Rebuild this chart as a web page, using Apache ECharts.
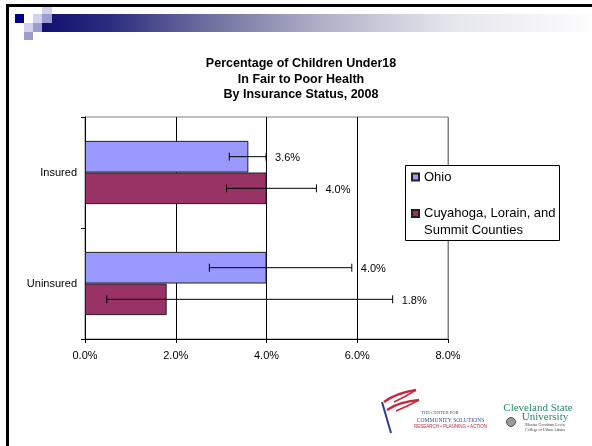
<!DOCTYPE html>
<html>
<head>
<meta charset="utf-8">
<script src="https://cdn.jsdelivr.net/npm/echarts@6/dist/echarts.min.js"></script>
<style>html,body{margin:0;padding:0;background:#fff;}#c{width:592px;height:446px;}</style>
</head>
<body>
<div id="c"></div>
<script>
const categories = ['Insured', 'Uninsured'];
const seriesNames = ['Ohio', 'Cuyahoga, Lorain, and\nSummit Counties'];
const ohioValues = [3.6, 4.0];
const cuyValues = [4.0, 1.8];
const ohioLow = [3.18, 2.74];
const ohioHigh = [3.99, 5.88];
const cuyLow = [3.12, 0.48];
const cuyHigh = [5.10, 6.78];
const xTicks = [0, 2, 4, 6, 8];

const FONT = 'Liberation Sans';
const GAP = 0.43;

function errData(low, high, vals, s) {
  return categories.map((c, i) => [low[i], high[i], i, vals[i], s]);
}

function renderErr(params, api) {
  const lo = api.value(0), hi = api.value(1), cat = api.value(2), v = api.value(3), s = api.value(4);
  const pLo = api.coord([lo, cat]);
  const pHi = api.coord([hi, cat]);
  const band = api.size([0, 1])[1];
  const barW = band * (1 - GAP) / 2;
  const y = pLo[1] + (s === 0 ? -1 : 1) * barW / 2;
  const st = { stroke: '#000', lineWidth: 1 };
  return {
    type: 'group',
    children: [
      { type: 'line', shape: { x1: pLo[0], y1: y, x2: pHi[0], y2: y }, style: st },
      { type: 'line', shape: { x1: pLo[0], y1: y - 4, x2: pLo[0], y2: y + 4 }, style: st },
      { type: 'line', shape: { x1: pHi[0], y1: y - 4, x2: pHi[0], y2: y + 4 }, style: st },
      { type: 'text', style: { x: pHi[0] + 9, y: y + 1.5, text: v.toFixed(1) + '%', fill: '#000',
        font: '11px "' + FONT + '"', textAlign: 'left', textVerticalAlign: 'middle' } }
    ]
  };
}

const chart = echarts.init(document.getElementById('c'), null, { renderer: 'canvas' });
chart.setOption({
  animation: false,
  backgroundColor: '#fff',
  textStyle: { fontFamily: FONT },
  title: {
    text: 'Percentage of Children Under18\nIn Fair to Poor Health\nBy Insurance Status, 2008',
    left: 296, textAlign: 'center', top: 51,
    textStyle: { fontFamily: FONT, fontWeight: 'bold', fontSize: 12.5, lineHeight: 15.5, color: '#000' }
  },
  grid: { left: 85, top: 117, width: 363, height: 222, show: true, borderColor: '#808080', borderWidth: 1, backgroundColor: 'transparent' },
  legend: {
    orient: 'vertical', left: 411, top: 168.5, padding: 0, itemGap: 2.5, z: 10,
    itemWidth: 7, itemHeight: 7, icon: 'rect',
    formatter: name => name.indexOf('\n') >= 0 ? ' \n' + name : name,
    textStyle: { fontSize: 13, lineHeight: 17, color: '#000', fontFamily: FONT },
    data: seriesNames
  },
  xAxis: {
    type: 'value', min: 0, max: 8, interval: 2,
    axisLine: { show: true, lineStyle: { color: '#000', width: 1 } },
    axisTick: { show: true, length: 4, lineStyle: { color: '#000' } },
    axisLabel: { margin: 11, fontSize: 11, color: '#000', formatter: v => v.toFixed(1) + '%' },
    splitLine: { show: true, lineStyle: { color: ['#000', '#000', '#000', '#000', '#808080'], width: 1 } }
  },
  yAxis: {
    type: 'category', data: categories, inverse: true,
    axisLine: { show: true, lineStyle: { color: '#000', width: 1 } },
    axisTick: { show: true, length: 4, lineStyle: { color: '#000' } },
    axisLabel: { margin: 8, fontSize: 11, color: '#000' }
  },
  series: [
    { name: seriesNames[0], type: 'bar', data: ohioValues, barGap: '0%', barCategoryGap: '43%',
      itemStyle: { color: '#9999FF', borderColor: '#222', borderWidth: 1 } },
    { name: seriesNames[1], type: 'bar', data: cuyValues, barGap: '0%', barCategoryGap: '43%',
      itemStyle: { color: '#993366', borderColor: '#222', borderWidth: 1 } },
    { type: 'custom', name: 'errOhio', renderItem: renderErr, data: errData(ohioLow, ohioHigh, ohioValues, 0),
      encode: { x: [0, 1], y: 2 }, z: 5, silent: true },
    { type: 'custom', name: 'errCuy', renderItem: renderErr, data: errData(cuyLow, cuyHigh, cuyValues, 1),
      encode: { x: [0, 1], y: 2 }, z: 5, silent: true }
  ],
  graphic: [
    { type: 'rect', shape: { x: 6, y: 4, width: 600, height: 3 }, style: { fill: '#000' }, z: 20 },
    { type: 'rect', shape: { x: 6, y: 4, width: 3, height: 460 }, style: { fill: '#000' }, z: 20 },
    { type: 'rect', shape: { x: 42, y: 14, width: 560, height: 18 }, z: 20,
      style: { fill: new echarts.graphic.LinearGradient(0, 0, 1, 0, [
        { offset: 0, color: '#101070' }, { offset: 0.12, color: '#2c2c80' }, { offset: 0.3, color: '#7070a0' },
        { offset: 0.5, color: '#b0b0c8' }, { offset: 0.72, color: '#e4e4ec' }, { offset: 1, color: '#ffffff' }]) } },
    { type: 'rect', shape: { x: 15, y: 14, width: 9, height: 9 }, style: { fill: '#000080' }, z: 21 },
    { type: 'rect', shape: { x: 33, y: 14, width: 9, height: 9 }, style: { fill: '#d2d2ee' }, z: 21 },
    { type: 'rect', shape: { x: 42, y: 14, width: 10, height: 9 }, style: { fill: '#9c9cd0' }, z: 21 },
    { type: 'rect', shape: { x: 42, y: 7, width: 10, height: 7 }, style: { fill: '#d2d2ee' }, z: 21 },
    { type: 'rect', shape: { x: 24, y: 23, width: 9, height: 9 }, style: { fill: '#d2d2ee' }, z: 21 },
    { type: 'rect', shape: { x: 33, y: 23, width: 9, height: 9 }, style: { fill: '#9c9cd0' }, z: 21 },
    { type: 'rect', shape: { x: 24, y: 32, width: 9, height: 8 }, style: { fill: '#9c9cd0' }, z: 21 },
    { type: 'rect', shape: { x: 405.5, y: 165.5, width: 154, height: 75 }, style: { fill: '#fff', stroke: '#000', lineWidth: 1 }, z: 6 },
    { type: 'line', shape: { x1: 382, y1: 402, x2: 391, y2: 433 }, style: { stroke: '#2b3d8c', lineWidth: 2 }, z: 20 },
    { type: 'bezierCurve', shape: { x1: 384, y1: 402, cpx1: 396, cpy1: 393, x2: 416, y2: 390 }, style: { stroke: '#c8283c', lineWidth: 2.5, fill: null }, z: 20 },
    { type: 'bezierCurve', shape: { x1: 416, y1: 390, cpx1: 405, cpy1: 397, x2: 394, y2: 402 }, style: { stroke: '#c8283c', lineWidth: 1.5, fill: null }, z: 20 },
    { type: 'bezierCurve', shape: { x1: 387, y1: 410, cpx1: 398, cpy1: 402, x2: 419, y2: 400 }, style: { stroke: '#c8283c', lineWidth: 2.5, fill: null }, z: 20 },
    { type: 'bezierCurve', shape: { x1: 419, y1: 400, cpx1: 408, cpy1: 406, x2: 396, y2: 411 }, style: { stroke: '#c8283c', lineWidth: 1.5, fill: null }, z: 20 },
    { type: 'text', style: { x: 440, y: 413, text: 'THE CENTER FOR', font: '4.5px "Liberation Serif"', fill: '#3a4a8a', textAlign: 'center', textVerticalAlign: 'middle' }, z: 20 },
    { type: 'text', style: { x: 450.5, y: 420.5, text: 'COMMUNITY SOLUTIONS', font: '5.6px "Liberation Serif"', fill: '#3a4c9c', textAlign: 'center', textVerticalAlign: 'middle' }, z: 20 },
    { type: 'text', style: { x: 450.5, y: 427, text: 'RESEARCH • PLANNING • ACTION', font: '4.5px "Liberation Sans"', fill: '#c8283c', textAlign: 'center', textVerticalAlign: 'middle' }, z: 20 },
    { type: 'text', style: { x: 538, y: 408, text: 'Cleveland State', font: '11px "Liberation Serif"', fill: '#2a8a6c', textAlign: 'center', textVerticalAlign: 'middle' }, z: 20 },
    { type: 'text', style: { x: 545, y: 417, text: 'University', font: '11px "Liberation Serif"', fill: '#2a8a6c', textAlign: 'center', textVerticalAlign: 'middle' }, z: 20 },
    { type: 'circle', shape: { cx: 511, cy: 422, r: 4.5 }, style: { fill: '#9a9a9a', stroke: '#555', lineWidth: 1 }, z: 20 },
    { type: 'text', style: { x: 545, y: 424.5, text: 'Maxine Goodman Levin', font: '4px "Liberation Serif"', fill: '#444', textAlign: 'center', textVerticalAlign: 'middle' }, z: 20 },
    { type: 'text', style: { x: 545, y: 429.5, text: 'College of Urban Affairs', font: '4px "Liberation Serif"', fill: '#444', textAlign: 'center', textVerticalAlign: 'middle' }, z: 20 }
  ]
});
</script>
</body>
</html>
